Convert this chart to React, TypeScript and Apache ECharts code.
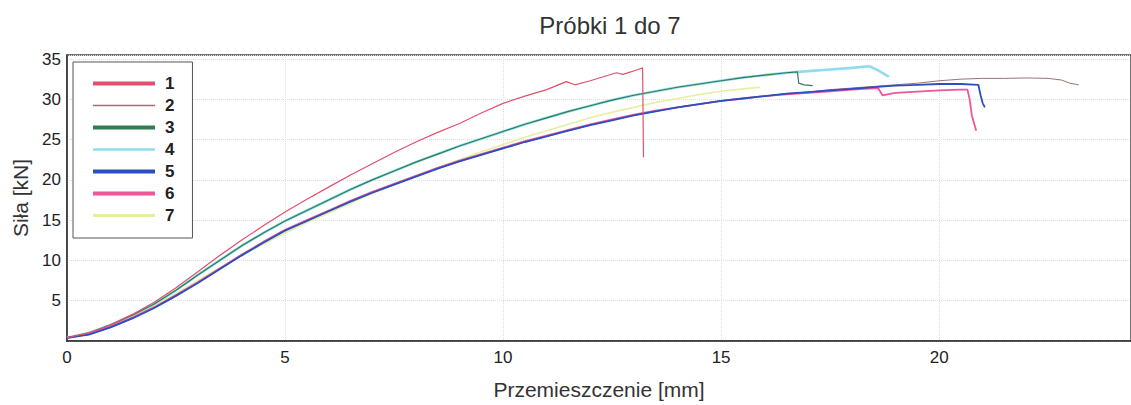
import React, { useEffect, useRef } from "react";
import * as echarts from "echarts";

const title = "Próbki 1 do 7";
const xName = "Przemieszczenie [mm]";
const yName = "Siła [kN]";
const seriesNames = ["1", "2", "3", "4", "5", "6", "7"];

const s1: [number, number][] = [
  [0, 0.4], [0.5, 1.0], [1, 2.0], [1.5, 3.3], [2, 4.8], [2.5, 6.6], [3, 8.6], [3.5, 10.6],
  [4, 12.5], [4.5, 14.3], [5, 16.0], [5.5, 17.6], [6, 19.1], [6.5, 20.6], [7, 22.0],
  [7.5, 23.4], [8, 24.7], [8.5, 25.9], [9, 27.0], [9.5, 28.3], [10, 29.5], [10.5, 30.4],
  [11, 31.2], [11.45, 32.2], [11.65, 31.8], [12, 32.3], [12.6, 33.3], [12.75, 33.1],
  [13.1, 33.7], [13.2, 33.9], [13.22, 22.8],
];
const s2: [number, number][] = [
  [0, 0.4], [0.5, 0.8], [1, 1.7], [1.5, 2.8], [2, 4.1], [2.5, 5.6], [3, 7.2], [3.5, 8.9],
  [4, 10.6], [4.5, 12.2], [5, 13.7], [5.5, 14.9], [6, 16.1], [6.5, 17.3], [7, 18.4],
  [7.5, 19.4], [8, 20.4], [8.5, 21.4], [9, 22.3], [9.5, 23.1], [10, 23.9], [10.5, 24.7],
  [11, 25.4], [11.5, 26.1], [12, 26.8], [12.5, 27.4], [13, 28.0], [13.5, 28.5], [14, 29.0],
  [14.5, 29.4], [15, 29.8], [15.5, 30.1], [16, 30.4], [16.5, 30.7], [17, 30.9], [17.5, 31.2],
  [18, 31.4], [18.5, 31.6], [19, 31.8], [19.5, 32.0], [20, 32.3], [20.5, 32.5], [21, 32.6],
  [21.5, 32.6], [22, 32.65], [22.5, 32.6], [22.8, 32.4], [23.0, 32.0], [23.2, 31.8],
];
const s3: [number, number][] = [
  [0, 0.4], [0.5, 1.0], [1, 2.0], [1.5, 3.2], [2, 4.6], [2.5, 6.3], [3, 8.2], [3.5, 10.0],
  [4, 11.8], [4.5, 13.4], [5, 14.9], [5.5, 16.2], [6, 17.5], [6.5, 18.8], [7, 20.0],
  [7.5, 21.1], [8, 22.2], [8.5, 23.2], [9, 24.2], [9.5, 25.1], [10, 26.0], [10.5, 26.9],
  [11, 27.7], [11.5, 28.5], [12, 29.2], [12.5, 29.9], [13, 30.5], [13.5, 31.0], [14, 31.5],
  [14.5, 31.9], [15, 32.3], [15.5, 32.7], [16, 33.0], [16.5, 33.3], [16.75, 33.4],
  [16.78, 32.0], [16.9, 31.8], [17.1, 31.7],
];
const s4: [number, number][] = [
  [0, 0.4], [0.5, 1.0], [1, 2.0], [1.5, 3.2], [2, 4.6], [2.5, 6.3], [3, 8.2], [3.5, 10.0],
  [4, 11.8], [4.5, 13.4], [5, 14.9], [5.5, 16.2], [6, 17.5], [6.5, 18.8], [7, 20.0],
  [7.5, 21.1], [8, 22.2], [8.5, 23.2], [9, 24.2], [9.5, 25.1], [10, 26.0], [10.5, 26.9],
  [11, 27.7], [11.5, 28.5], [12, 29.2], [12.5, 29.9], [13, 30.5], [13.5, 31.0], [14, 31.5],
  [14.5, 31.9], [15, 32.3], [15.5, 32.7], [16, 33.0], [16.5, 33.3], [17, 33.5], [17.5, 33.7],
  [18, 33.9], [18.4, 34.1], [18.6, 33.6], [18.85, 32.8],
];
const s5: [number, number][] = [
  [0, 0.4], [0.5, 0.8], [1, 1.7], [1.5, 2.8], [2, 4.1], [2.5, 5.6], [3, 7.2], [3.5, 8.9],
  [4, 10.6], [4.5, 12.2], [5, 13.7], [5.5, 14.9], [6, 16.1], [6.5, 17.3], [7, 18.4],
  [7.5, 19.4], [8, 20.4], [8.5, 21.4], [9, 22.3], [9.5, 23.1], [10, 23.9], [10.5, 24.7],
  [11, 25.4], [11.5, 26.1], [12, 26.8], [12.5, 27.4], [13, 28.0], [13.5, 28.5], [14, 29.0],
  [14.5, 29.4], [15, 29.8], [15.5, 30.1], [16, 30.4], [16.5, 30.7], [17, 30.9], [17.5, 31.1],
  [18, 31.3], [18.5, 31.5], [19, 31.7], [19.5, 31.8], [20, 31.9], [20.5, 31.9], [20.9, 31.8],
  [20.95, 30.5], [21.0, 29.5], [21.05, 29.0],
];
const s6: [number, number][] = [
  [0, 0.4], [0.5, 0.9], [1, 1.8], [1.5, 2.9], [2, 4.2], [2.5, 5.7], [3, 7.3], [3.5, 9.0],
  [4, 10.7], [4.5, 12.3], [5, 13.8], [5.5, 15.0], [6, 16.2], [6.5, 17.4], [7, 18.5],
  [7.5, 19.5], [8, 20.5], [8.5, 21.5], [9, 22.4], [9.5, 23.2], [10, 24.0], [10.5, 24.8],
  [11, 25.5], [11.5, 26.2], [12, 26.9], [12.5, 27.5], [13, 28.1], [13.5, 28.6], [14, 29.0],
  [14.5, 29.4], [15, 29.8], [15.5, 30.1], [16, 30.4], [16.5, 30.6], [17, 30.8], [17.5, 31.0],
  [18, 31.2], [18.6, 31.4], [18.7, 30.5], [19, 30.8], [19.5, 30.95], [20, 31.1], [20.5, 31.2],
  [20.65, 31.2], [20.7, 30.0], [20.75, 28.0], [20.85, 26.1],
];
const s7: [number, number][] = [
  [0, 0.4], [0.5, 0.9], [1, 1.9], [1.5, 3.0], [2, 4.4], [2.5, 5.9], [3, 7.5], [3.5, 9.1],
  [4, 10.6], [4.5, 12.0], [5, 13.4], [5.5, 14.7], [6, 15.9], [6.5, 17.1], [7, 18.3],
  [7.5, 19.4], [8, 20.5], [8.5, 21.5], [9, 22.5], [9.5, 23.5], [10, 24.4], [10.5, 25.3],
  [11, 26.1], [11.5, 26.9], [12, 27.7], [12.5, 28.4], [13, 29.0], [13.5, 29.6], [14, 30.1],
  [14.5, 30.6], [15, 31.0], [15.5, 31.3], [15.9, 31.5],
];

const seriesData = [s1, s2, s3, s4, s5, s6, s7];
const colors = ["#e2506e", "#9a7272", "#2f7d50", "#8edcef", "#2a4fc0", "#f0559a", "#e4efa0"];
const plotWidths = [1.2, 1, 1.2, 2.6, 1.8, 1.8, 1.6];
const legendWidths = [4, 1.5, 4, 2.5, 4, 4, 3];
const drawOrder = [6, 3, 2, 1, 5, 4, 0];

export default function App() {
  const ref = useRef<HTMLDivElement>(null);
  useEffect(() => {
    if (!ref.current) return;
    const chart = echarts.init(ref.current, undefined, { renderer: "svg" });
    const font = "'Liberation Sans', Arial, sans-serif";
    const series = drawOrder.map((i) => ({
      name: seriesNames[i],
      type: "line",
      data: seriesData[i],
      showSymbol: false,
      symbol: "none",
      z: 2 + drawOrder.indexOf(i),
      lineStyle: { color: colors[i], width: plotWidths[i] },
      itemStyle: { color: colors[i] },
    }));
    chart.setOption({
      animation: false,
      backgroundColor: "#ffffff",
      textStyle: { fontFamily: font },
      title: {
        text: title,
        left: 605,
        textAlign: "center",
        top: 8,
        textStyle: { fontSize: 24, fontWeight: "normal", color: "#333", fontFamily: font },
      },
      legend: {
        orient: "vertical",
        left: 73,
        top: 62,
        padding: [13, 18, 14, 18],
        itemWidth: 62,
        itemHeight: 14,
        itemGap: 5,
        backgroundColor: "#ffffff",
        borderColor: "#555",
        borderWidth: 1,
        itemStyle: { opacity: 0, borderWidth: 0 },
        textStyle: {
          fontSize: 17,
          fontWeight: "bold",
          color: "#222",
          fontFamily: font,
          padding: [0, 0, 0, 5],
        },
        data: seriesNames.map((n, i) => ({
          name: n,
          itemStyle: { opacity: 0, borderWidth: 0 },
          lineStyle: { color: colors[i], width: legendWidths[i], opacity: 1 },
        })),
      },
      grid: {
        left: 67,
        right: -8,
        top: 55,
        bottom: 62,
        show: true,
        borderColor: "#444",
        borderWidth: 1.5,
        backgroundColor: "transparent",
      },
      xAxis: {
        type: "value",
        min: 0,
        max: 24.4,
        interval: 5,
        name: xName,
        nameLocation: "middle",
        nameGap: 38,
        nameTextStyle: { fontSize: 21, color: "#333", fontFamily: font },
        axisLine: { show: true, lineStyle: { color: "#333", width: 1.5 } },
        axisTick: { show: false },
        axisLabel: { showMaxLabel: false, fontSize: 17, color: "#222", margin: 8, fontFamily: font },
        splitLine: { show: true, lineStyle: { color: "#dedede", type: "dotted" } },
      },
      yAxis: {
        type: "value",
        min: 0,
        max: 35.5,
        interval: 5,
        name: yName,
        nameLocation: "middle",
        nameGap: 36,
        nameTextStyle: { fontSize: 21, color: "#333", fontFamily: font },
        axisLine: { show: true, lineStyle: { color: "#333", width: 1.5 } },
        axisTick: { show: false },
        axisLabel: { showMinLabel: false, showMaxLabel: false, fontSize: 17, color: "#222", margin: 6, fontFamily: font },
        splitLine: { show: true, lineStyle: { color: "#dedede", type: "dotted" } },
      },
      series,
    });
    return () => chart.dispose();
  }, []);
  return (
    <div
      ref={ref}
      style={{ position: "fixed", left: 0, top: 0, width: 1131, height: 405, overflow: "hidden" }}
    />
  );
}
